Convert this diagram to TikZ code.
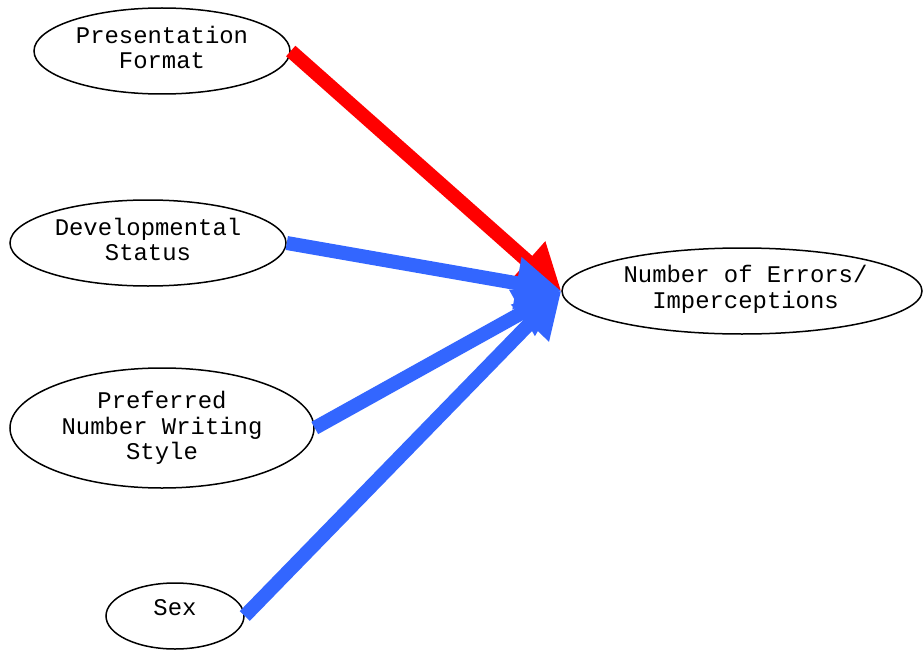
\documentclass[tikz,border=0pt]{standalone}
\usepackage{fontspec}
\setmonofont{Liberation Mono}
\usetikzlibrary{shapes.geometric,arrows.meta}
\definecolor{eblue}{HTML}{3366FF}
\begin{document}
\begin{tikzpicture}[x=1pt,y=-1pt,
  vnode/.style={draw=black,line width=1.5pt,ellipse,inner sep=0pt},
  vtext/.style={inner sep=0pt,align=center,font=\ttfamily\fontsize{23.9}{25.5}\selectfont},
  edge/.style={line width=14pt,-{Triangle[length=45pt,width=50pt]}}]
\useasboundingbox (0,0) rectangle (923,650);
\node[vnode,minimum width=256pt,minimum height=86pt,
  label={[vtext,yshift=3.5pt]center:{Presentation\\Format}}] (pf) at (162,51) {};
\node[vnode,minimum width=276pt,minimum height=86pt,
  label={[vtext,yshift=3.5pt]center:{Developmental\\Status}}] (ds) at (148,243) {};
\node[vnode,minimum width=304pt,minimum height=120pt,
  label={[vtext]center:{Preferred\\Number Writing\\Style}}] (pn) at (162,428) {};
\node[vnode,minimum width=138pt,minimum height=66pt,
  label={[vtext,yshift=8pt]center:{Sex}}] (sx) at (175,616) {};
\node[vnode,minimum width=360pt,minimum height=86pt,
  label={[vtext,yshift=1.5pt,xshift=3.5pt]center:{Number of Errors/\\Imperceptions}}] (ne) at (742,291) {};
\draw[edge,red] (pf.east) -- (ne.west);
\draw[edge,eblue] (ds.east) -- (ne.west);
\draw[edge,eblue] (pn.east) -- (ne.west);
\draw[edge,eblue] (sx.east) -- (ne.west);
\end{tikzpicture}
\end{document}
